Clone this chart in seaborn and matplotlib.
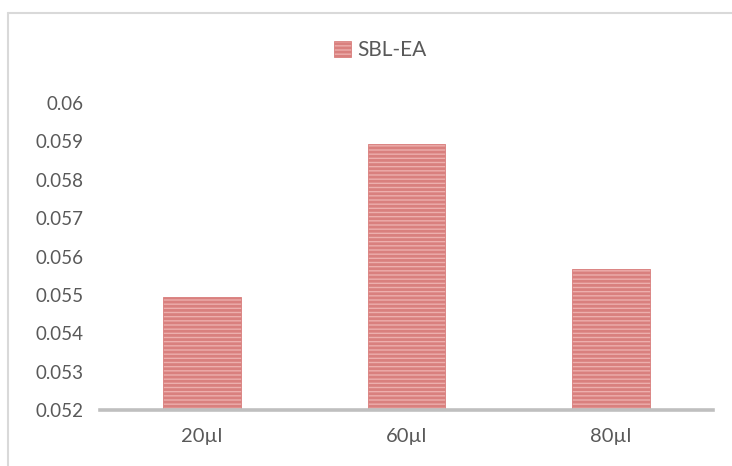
import matplotlib
matplotlib.use("Agg")
import matplotlib.pyplot as plt
import seaborn as sns
import pandas as pd
from matplotlib.lines import Line2D
from matplotlib.patches import Patch

categories = ["20µl", "60µl", "80µl"]
values = [0.05495, 0.05892, 0.05567]
series_name = "SBL-EA"
yticks = [0.052, 0.053, 0.054, 0.055, 0.056, 0.057, 0.058, 0.059, 0.06]
ytick_labels = ["0.052", "0.053", "0.054", "0.055", "0.056", "0.057", "0.058", "0.059", "0.06"]

sns.set_style("white")
plt.rcParams["font.family"] = ["Lato", "DejaVu Sans"]
plt.rcParams["hatch.color"] = "#C9605D"
plt.rcParams["hatch.linewidth"] = 2.0

df = pd.DataFrame({"cat": categories, "val": values, "series": series_name})

W, H = 7.32, 4.66
fig = plt.figure(figsize=(W, H), dpi=100)
ax = fig.add_axes([100 / 732, 1 - 410 / 466, 613 / 732, (410 - 103) / 466])

FACE = "#EDAFAD"
EDGE = "#D9807E"
sns.barplot(data=df, x="cat", y="val", ax=ax, width=0.38,
            color=FACE, edgecolor=EDGE, linewidth=0.6, saturation=1)
for p in ax.patches:
    p.set_hatch("----")

ax.set_ylim(0.052, 0.06)
ax.set_xlim(-0.5, 2.5)
ax.set_yticks(yticks)
ax.set_yticklabels(ytick_labels)
ax.set_xlabel("")
ax.set_ylabel("")
for s in ["left", "right", "top"]:
    ax.spines[s].set_visible(False)
ax.spines["bottom"].set_color("#BFBFBF")
ax.spines["bottom"].set_linewidth(2.6)
ax.spines["bottom"].set_zorder(5)
ax.tick_params(axis="y", length=0, labelsize=13.5, colors="#595959", pad=12)
ax.tick_params(axis="x", length=0, labelsize=14.5, colors="#595959", pad=13)

# legend
handle = Patch(facecolor=FACE, edgecolor=EDGE, hatch="----", linewidth=0.6)
leg = fig.legend([handle], [series_name], loc="center", bbox_to_anchor=(380 / 732, 1 - 50 / 466),
                 frameon=False, fontsize=15, handlelength=0.8, handleheight=0.8, handletextpad=0.3)
for t in leg.get_texts():
    t.set_color("#595959")

# chart frame (top and left edges visible)
fig.add_artist(Line2D([8 / 732, 8 / 732], [1 - 12.5 / 466, 0], transform=fig.transFigure,
                      color="#D9D9D9", linewidth=1.5))
fig.add_artist(Line2D([8 / 732, 1], [1 - 12.5 / 466, 1 - 12.5 / 466], transform=fig.transFigure,
                      color="#D9D9D9", linewidth=1.5))

fig.savefig("out.png", dpi=100)
